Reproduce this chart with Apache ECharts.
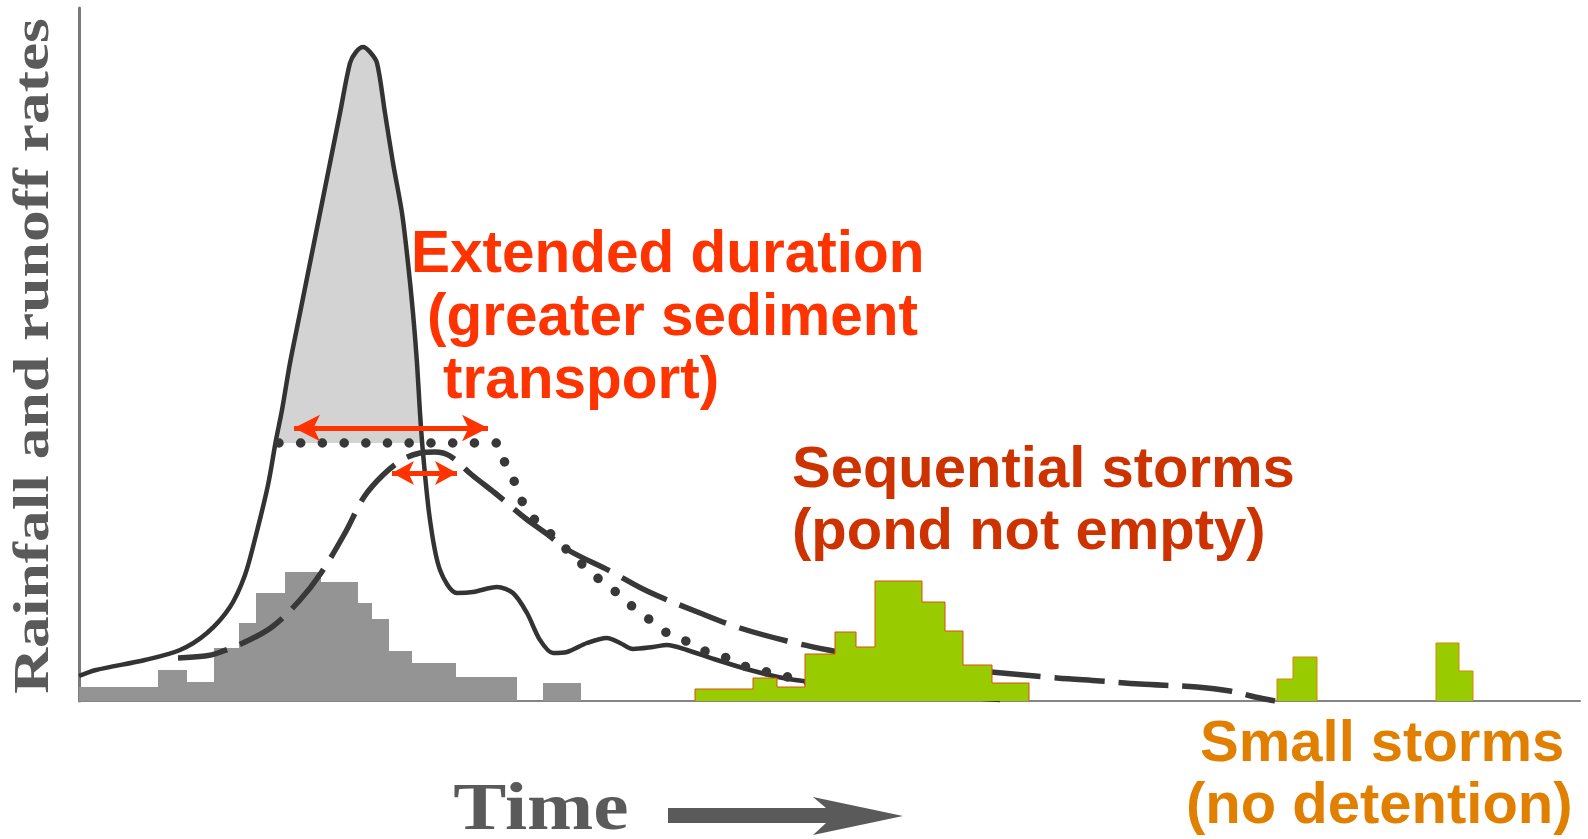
<!DOCTYPE html>
<html>
<head>
<meta charset="utf-8">
<script src="https://cdn.jsdelivr.net/npm/echarts@6/dist/echarts.min.js"></script>
<style>
html,body{margin:0;padding:0;background:#fff;}
#chart{width:1588px;height:839px;}
</style>
</head>
<body>
<div id="chart"></div>
<script>
// ---- data (time units from the y axis, rate units above the time axis) ----
const rainTime = [0, 79, 108, 135, 160, 177, 206, 242, 279, 293, 310, 333, 377, 438, 464, 502];
const rainRate = [14, 31, 19, 53, 78, 108, 129, 119, 98, 82, 50, 38, 24, 0, 18, 0];

const inflowTime = [0,17,66,101,128,151,166,177,189,197,203,211,221,231,241,251,261,271,277,284,291,298,306,314,323,329,334,338,341,344,351,361,378,394,418,434,448,461,474,488,508,528,541,554,574,588,608,638,671,704,731,771,821,871,921];
const inflowRate = [25,31,41,51,68,94,126,166,216,261,291,338,388,438,488,538,588,638,649,654,649,638,588,538,488,438,388,338,288,248,181,131,108,109,114,108,88,61,48,49,58,63,58,52,54,56,51,41,31,23,19,13,8,4,1];

const extendedTime = [200,300,400,418,426,436,444,456,473,488,504,521,538,554,571,588,609,628,648,668,688,709,731,761,791];
const extendedRate = [258,258,258,258,238,218,198,181,166,151,136,121,108,94,81,68,59,49,43,34,29,24,18,11,6];

const detentionTime = [99,126,139,166,193,221,242,266,285,304,323,341,356,371,393,416,446,468,489,531,568,621,661,708,754,801,851,923,978,1021,1061,1118,1151,1176,1196];
const detentionRate = [43,45,48,59,74,101,128,168,204,226,241,248,249,245,226,208,183,167,151,130,110,88,73,60,50,41,35,28,23,20,17,14,10,4,0];

const seqTime = [616, 616, 674, 698, 726, 756, 777, 796, 843, 866, 884, 913, 950];
const seqRate = [0, 12, 23, 14, 47, 69, 54, 120, 99, 70, 36, 18, 0];

const small1Time = [1198, 1198, 1214, 1238];
const small1Rate = [0, 22, 44, 0];
const small2Time = [1357, 1357, 1380, 1394];
const small2Rate = [0, 58, 30, 0];

// duration arrows: [start time, end time, rate level]
const arrowLong = [215, 409, 273];
const arrowShort = [313, 378, 228];

const yAxisTitle = 'Rainfall and runoff rates';
const xAxisTitle = 'Time';
const note1 = ['Extended duration', '(greater sediment', 'transport)'];
const note2 = ['Sequential storms', '(pond not empty)'];
const note3 = ['Small storms', '(no detention)'];

const pairs = (t, v) => t.map((x, i) => [x, v[i]]);

const chart = echarts.init(document.getElementById('chart'), null, {renderer: 'canvas'});

const sans = '"Liberation Sans", Arial, Helvetica, sans-serif';
const serif = '"Liberation Serif", "Times New Roman", serif';

function txt(text, x, y, color, size, extra) {
  return Object.assign({
    type: 'text', x: x, y: y, silent: true, z: 100,
    style: {text: text, font: 'bold ' + size + 'px ' + sans, fill: color,
      align: 'left', textAlign: 'left', verticalAlign: 'middle', textVerticalAlign: 'middle'}
  }, extra || {});
}

const option = {
  animation: false,
  backgroundColor: '#ffffff',
  grid: {left: 79, top: 8, right: 8, bottom: 138},
  xAxis: {
    type: 'value', min: 0, max: 1501,
    axisLine: {show: true, lineStyle: {color: '#858585', width: 2}},
    axisTick: {show: false}, axisLabel: {show: false}, splitLine: {show: false}
  },
  yAxis: {
    type: 'value', min: 0, max: 693,
    axisLine: {show: true, lineStyle: {color: '#7a7a7a', width: 3}},
    axisTick: {show: false}, axisLabel: {show: false}, splitLine: {show: false}
  },
  series: [
    {
      name: 'rainfall', type: 'line', step: 'end', symbol: 'none', silent: true, z: 1,
      data: pairs(rainTime, rainRate),
      lineStyle: {width: 0}, areaStyle: {color: '#949494', opacity: 1}
    },
    {
      name: 'peak shading', type: 'custom', silent: true, z: 1,
      data: [[0, 0]],
      renderItem: function (params, api) {
        const level = extendedRate[0];
        const pts = [];
        for (let i = 0; i < inflowTime.length; i++) {
          const r = inflowRate[i];
          if (i > 0) {
            const r0 = inflowRate[i - 1];
            if ((r0 < level && r >= level) || (r0 >= level && r < level)) {
              const t = inflowTime[i - 1] + (level - r0) / (r - r0) * (inflowTime[i] - inflowTime[i - 1]);
              pts.push(api.coord([t, level]));
            }
          }
          if (r >= level) pts.push(api.coord([inflowTime[i], r]));
        }
        return {type: 'polygon', shape: {points: pts, smooth: 0}, style: {fill: '#d3d3d3', stroke: null}};
      }
    },
    {
      name: 'inflow', type: 'line', symbol: 'none', silent: true, smooth: 0.3, z: 2,
      data: pairs(inflowTime, inflowRate),
      lineStyle: {color: '#333333', width: 4.5}
    },
    {
      name: 'extended detention', type: 'line', symbol: 'none', silent: true, smooth: 0.3, z: 2,
      data: pairs(extendedTime, extendedRate),
      lineStyle: {color: '#383838', width: 9.5, type: [0.1, 21.6], cap: 'round'}
    },
    {
      name: 'detention', type: 'line', symbol: 'none', silent: true, smooth: 0.35, z: 2,
      data: pairs(detentionTime, detentionRate),
      lineStyle: {color: '#383838', width: 5.5, type: [50, 14]}
    },
    {
      name: 'sequential storms', type: 'line', step: 'end', symbol: 'none', silent: true, z: 5,
      data: pairs(seqTime, seqRate),
      lineStyle: {color: '#e04a10', width: 1}, areaStyle: {color: '#99cc00', opacity: 1}
    },
    {
      name: 'small storm 1', type: 'line', step: 'end', symbol: 'none', silent: true, z: 5,
      data: pairs(small1Time, small1Rate),
      lineStyle: {color: '#e08000', width: 1}, areaStyle: {color: '#99cc00', opacity: 1}
    },
    {
      name: 'small storm 2', type: 'line', step: 'end', symbol: 'none', silent: true, z: 6,
      data: pairs(small2Time, small2Rate),
      lineStyle: {color: '#e08000', width: 1}, areaStyle: {color: '#99cc00', opacity: 1},
      markLine: {
        silent: true, animation: false,
        symbol: ['arrow', 'arrow'],
        label: {show: false},
        emphasis: {disabled: true},
        lineStyle: {color: '#ff3300', width: 5, type: 'solid', opacity: 1},
        data: [
          [{coord: [arrowLong[0], arrowLong[2]], symbolSize: [20, 26]}, {coord: [arrowLong[1], arrowLong[2]], symbolSize: [20, 26]}],
          [{coord: [arrowShort[0], arrowShort[2]], symbolSize: [18, 22]}, {coord: [arrowShort[1], arrowShort[2]], symbolSize: [18, 22]}]
        ]
      }
    }
  ],
  graphic: [
    {
      type: 'text', x: 35, y: 356, rotation: Math.PI / 2, scaleX: 1.27, silent: true,
      style: {text: yAxisTitle, font: 'bold 50px ' + serif, fill: '#5a5a5a',
        align: 'center', textAlign: 'center', verticalAlign: 'middle', textVerticalAlign: 'middle'}
    },
    {
      type: 'text', x: 541, y: 811, scaleX: 1.17, silent: true,
      style: {text: xAxisTitle, font: 'bold 68px ' + serif, fill: '#5a5a5a',
        align: 'center', textAlign: 'center', verticalAlign: 'middle', textVerticalAlign: 'middle'}
    },
    {
      type: 'polygon', silent: true,
      shape: {points: [[668, 808], [826, 808], [813, 797], [903, 816], [813, 835], [826, 823], [668, 823]]},
      style: {fill: '#5a5a5a'}
    },
    txt(note1[0], 411, 256, '#ff3300', 58.5),
    txt(note1[1], 427, 319, '#ff3300', 58.5),
    txt(note1[2], 443, 382, '#ff3300', 58.5),
    txt(note2[0], 792, 471, '#cc3300', 58),
    txt(note2[1], 792, 533, '#cc3300', 58),
    txt(note3[0], 1200, 745, '#e07f00', 58),
    txt(note3[1], 1186, 807, '#e07f00', 58)
  ]
};
chart.setOption(option);
</script>
</body>
</html>
